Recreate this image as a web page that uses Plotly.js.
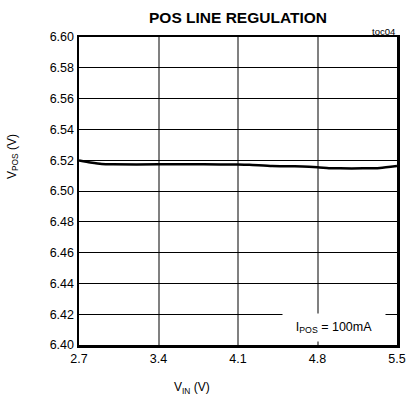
<!DOCTYPE html>
<html>
<head>
<meta charset="utf-8">
<script src="https://cdn.plot.ly/plotly-3.0.1.min.js"></script>
<style>html,body{margin:0;padding:0;background:#fff;overflow:hidden;}#chart{width:406px;height:407px;overflow:hidden;}</style>
</head>
<body>
<div id="chart"></div>
<script>
var vin = [2.7, 2.8, 2.9, 3.0, 3.4, 3.8, 4.1, 4.2, 4.4, 4.6, 4.8, 4.9, 5.0, 5.2, 5.35, 5.5];
var vpos = [6.5198, 6.5185, 6.5175, 6.5173, 6.5173, 6.5173, 6.5172, 6.5170, 6.5162, 6.5160, 6.5155, 6.5148, 6.5147, 6.5147, 6.5150, 6.5162];
var xTicks = [2.7, 3.4, 4.1, 4.8, 5.5];
var yTicks = [6.40, 6.42, 6.44, 6.46, 6.48, 6.50, 6.52, 6.54, 6.56, 6.58, 6.60];

var FONT = '"Liberation Sans", Arial, sans-serif';

var trace = {
  x: vin, y: vpos, type: 'scatter', mode: 'lines',
  line: {color: '#000', width: 2.5, shape: 'spline', smoothing: 0.6},
  hoverinfo: 'skip'
};

var layout = {
  width: 406, height: 407,
  margin: {l: 79, r: 9, t: 37, b: 62},
  paper_bgcolor: '#fff', plot_bgcolor: '#fff',
  showlegend: false,
  font: {family: FONT, color: '#000', size: 12.5},
  xaxis: {
    range: [2.7, 5.5], tickvals: xTicks, ticktext: xTicks.map(function(v){return v.toFixed(1);}),
    showgrid: true, gridcolor: '#808080', gridwidth: 2,
    showline: true, linecolor: '#000', linewidth: 2.5, mirror: true,
    zeroline: false, ticks: '', ticklen: 0, tickfont: {size: 12.5, family: FONT},
    fixedrange: true
  },
  yaxis: {
    range: [6.40, 6.60], tickvals: yTicks, ticktext: yTicks.map(function(v){return v.toFixed(2);}),
    showgrid: true, gridcolor: '#000', gridwidth: 1,
    showline: true, linecolor: '#000', linewidth: 2.5, mirror: true,
    zeroline: false, ticks: '', ticklen: 0, tickfont: {size: 12.5, family: FONT},
    fixedrange: true
  },
  annotations: [
    {text: '<b>POS LINE REGULATION</b>', xref: 'paper', yref: 'paper', x: 0.5, y: 1, yshift: 20,
     xanchor: 'center', yanchor: 'middle', showarrow: false, font: {size: 15.5, family: FONT}},
    {text: 'toc04', xref: 'paper', yref: 'paper', x: 1, y: 1, yshift: 6, xshift: 0,
     xanchor: 'right', yanchor: 'middle', showarrow: false, font: {size: 9.5, family: FONT}},
    {text: 'V<sub>POS</sub> (V)', xref: 'paper', yref: 'paper', x: 0, xshift: -66, y: 0.61,
     xanchor: 'center', yanchor: 'middle', textangle: -90, showarrow: false, font: {size: 12, family: FONT}},
    {text: 'V<sub>IN</sub> (V)', xref: 'paper', yref: 'paper', x: 0.355, y: 0, yshift: -43,
     xanchor: 'center', yanchor: 'middle', showarrow: false, font: {size: 12, family: FONT}},
    {text: 'I<sub>POS</sub> = 100mA', xref: 'paper', yref: 'paper', x: 0.802, y: 0, yshift: 17.5,
     xanchor: 'center', yanchor: 'middle', showarrow: false, bgcolor: '#fff', borderpad: 0,
     width: 102, height: 27, font: {size: 12.5, family: FONT}}
  ]
};

Plotly.newPlot('chart', [trace], layout, {displayModeBar: false, staticPlot: true});
</script>
</body>
</html>
